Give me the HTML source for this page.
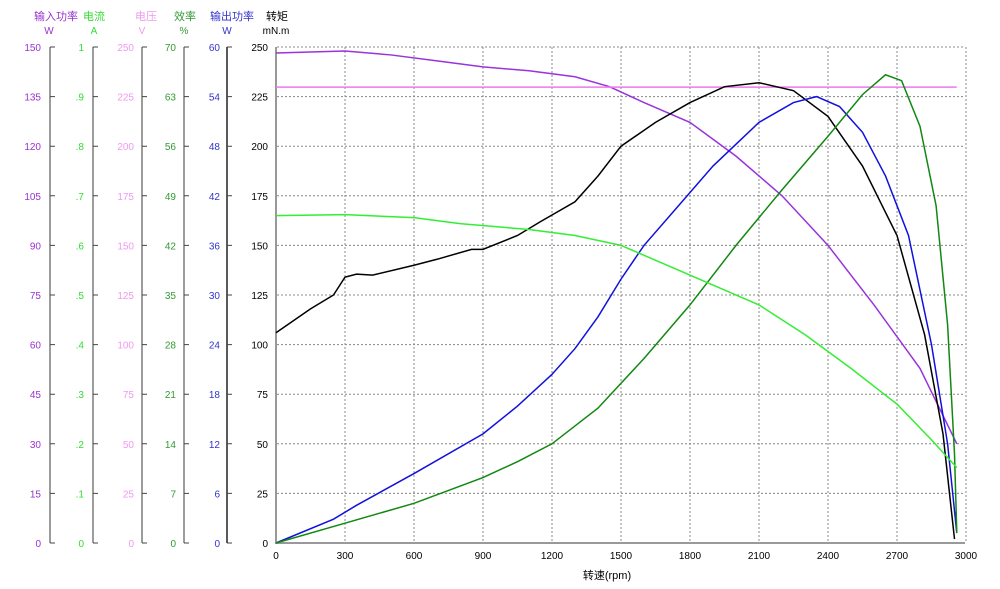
<!DOCTYPE html>
<html><head><meta charset="utf-8"><style>
body{margin:0;background:#fff;}
svg{display:block;font-family:"Liberation Sans","Noto Sans CJK SC",sans-serif;font-size:10px;}
</style></head><body>
<svg width="1000" height="589" xmlns="http://www.w3.org/2000/svg">
<g font-size="11" text-anchor="middle">
<text x="56" y="20" fill="#9933cc">输入功率</text><text x="94" y="20" fill="#33dd33">电流</text>
<text x="146" y="20" fill="#ee99ee">电压</text><text x="185" y="20" fill="#339933">效率</text>
<text x="232" y="20" fill="#3333cc">输出功率</text><text x="277" y="20" fill="#000">转矩</text>
</g>
<g font-size="10" text-anchor="middle">
<text x="49" y="34" fill="#9933cc">W</text><text x="94" y="34" fill="#33dd33">A</text>
<text x="142" y="34" fill="#ee99ee">V</text><text x="184" y="34" fill="#339933">%</text>
<text x="227" y="34" fill="#3333cc">W</text><text x="276" y="34" fill="#000">mN.m</text>
</g>
<g stroke-width="1.3">
<line x1="50" y1="47" x2="50" y2="543" stroke="#666"/>
<line x1="93" y1="47" x2="93" y2="543" stroke="#666"/>
<line x1="142" y1="47" x2="142" y2="543" stroke="#666"/>
<line x1="184" y1="47" x2="184" y2="543" stroke="#666"/>
<line x1="227" y1="47" x2="227" y2="543" stroke="#000"/>
</g>
<g stroke="#444">
<path d="M50 543h5M50 493.4h5M50 443.8h5M50 394.2h5M50 344.6h5M50 295h5M50 245.4h5M50 195.8h5M50 146.2h5M50 96.6h5M50 47h5"/>
<path d="M93 543h5M93 493.4h5M93 443.8h5M93 394.2h5M93 344.6h5M93 295h5M93 245.4h5M93 195.8h5M93 146.2h5M93 96.6h5M93 47h5"/>
<path d="M142 543h5M142 493.4h5M142 443.8h5M142 394.2h5M142 344.6h5M142 295h5M142 245.4h5M142 195.8h5M142 146.2h5M142 96.6h5M142 47h5"/>
<path d="M184 543h5M184 493.4h5M184 443.8h5M184 394.2h5M184 344.6h5M184 295h5M184 245.4h5M184 195.8h5M184 146.2h5M184 96.6h5M184 47h5"/>
<path d="M227 543h5M227 493.4h5M227 443.8h5M227 394.2h5M227 344.6h5M227 295h5M227 245.4h5M227 195.8h5M227 146.2h5M227 96.6h5M227 47h5"/>
</g>
<g text-anchor="end" font-size="10">
<g fill="#9933cc"><text x="41" y="547">0</text><text x="41" y="497.4">15</text><text x="41" y="447.8">30</text><text x="41" y="398.2">45</text><text x="41" y="348.6">60</text><text x="41" y="299">75</text><text x="41" y="249.4">90</text><text x="41" y="199.8">105</text><text x="41" y="150.2">120</text><text x="41" y="100.6">135</text><text x="41" y="51">150</text></g>
<g fill="#33dd33"><text x="84" y="547">0</text><text x="84" y="497.4">.1</text><text x="84" y="447.8">.2</text><text x="84" y="398.2">.3</text><text x="84" y="348.6">.4</text><text x="84" y="299">.5</text><text x="84" y="249.4">.6</text><text x="84" y="199.8">.7</text><text x="84" y="150.2">.8</text><text x="84" y="100.6">.9</text><text x="84" y="51">1</text></g>
<g fill="#ee99ee"><text x="134" y="547">0</text><text x="134" y="497.4">25</text><text x="134" y="447.8">50</text><text x="134" y="398.2">75</text><text x="134" y="348.6">100</text><text x="134" y="299">125</text><text x="134" y="249.4">150</text><text x="134" y="199.8">175</text><text x="134" y="150.2">200</text><text x="134" y="100.6">225</text><text x="134" y="51">250</text></g>
<g fill="#339933"><text x="176" y="547">0</text><text x="176" y="497.4">7</text><text x="176" y="447.8">14</text><text x="176" y="398.2">21</text><text x="176" y="348.6">28</text><text x="176" y="299">35</text><text x="176" y="249.4">42</text><text x="176" y="199.8">49</text><text x="176" y="150.2">56</text><text x="176" y="100.6">63</text><text x="176" y="51">70</text></g>
<g fill="#3333cc"><text x="220" y="547">0</text><text x="220" y="497.4">6</text><text x="220" y="447.8">12</text><text x="220" y="398.2">18</text><text x="220" y="348.6">24</text><text x="220" y="299">30</text><text x="220" y="249.4">36</text><text x="220" y="199.8">42</text><text x="220" y="150.2">48</text><text x="220" y="100.6">54</text><text x="220" y="51">60</text></g>
<g fill="#000"><text x="268" y="547">0</text><text x="268" y="497.4">25</text><text x="268" y="447.8">50</text><text x="268" y="398.2">75</text><text x="268" y="348.6">100</text><text x="268" y="299">125</text><text x="268" y="249.4">150</text><text x="268" y="199.8">175</text><text x="268" y="150.2">200</text><text x="268" y="100.6">225</text><text x="268" y="51">250</text></g>
</g>
<g stroke="#888" stroke-width="1" stroke-dasharray="2,2">
<path d="M277 493.4H965M277 443.8H965M277 394.2H965M277 344.6H965M277 295H965M277 245.4H965M277 195.8H965M277 146.2H965M277 96.6H965M277 47H965"/>
<path d="M345 47V543M414 47V543M483 47V543M552 47V543M621 47V543M690 47V543M759 47V543M828 47V543M897 47V543M966 47V543"/>
</g>
<g text-anchor="middle" font-size="10">
<text x="276" y="559">0</text><text x="345" y="559">300</text><text x="414" y="559">600</text><text x="483" y="559">900</text><text x="552" y="559">1200</text><text x="621" y="559">1500</text><text x="690" y="559">1800</text><text x="759" y="559">2100</text><text x="828" y="559">2400</text><text x="897" y="559">2700</text><text x="966" y="559">3000</text>
</g>
<line x1="276" y1="47" x2="276" y2="543" stroke="#999" stroke-width="2"/>
<line x1="275" y1="543" x2="965" y2="543" stroke="#999" stroke-width="2"/>
<g fill="none" stroke-width="1.5" transform="translate(276,543) scale(0.23,-1.984)">
<polyline vector-effect="non-scaling-stroke" stroke="#9933dd" points="0,247 300,248 500,246 700,243 900,240 1100,238 1300,235 1450,230 1600,222 1800,212 2000,195 2200,175 2400,150 2600,120 2800,88 2960,50"/>
<polyline vector-effect="non-scaling-stroke" stroke="#ee77ee" points="0,229.8 2960,229.8"/>
<polyline vector-effect="non-scaling-stroke" stroke="#000" points="0,106 150,118 250,125 300,134 350,135.5 420,135 600,140 700,143 850,148 900,148 1050,155 1150,162 1300,172 1400,185 1500,200 1650,212 1800,222 1950,230 2100,232 2250,228 2400,215 2550,190 2700,155 2820,105 2900,55 2950,2"/>
<polyline vector-effect="non-scaling-stroke" stroke="#1111dd" points="0,0 250,12 350,19 600,35 900,55 1050,69 1200,85 1300,98 1400,114 1500,133 1600,150 1750,170 1900,190 2100,212 2250,222 2350,225 2450,220 2550,207 2650,185 2750,155 2850,100 2920,50 2960,5"/>
<polyline vector-effect="non-scaling-stroke" stroke="#118811" points="0,0 300,10 600,20 900,33 1050,41 1200,50 1400,68 1600,93 1800,120 2000,150 2200,178 2400,205 2550,226 2650,236 2720,233 2800,210 2870,170 2920,110 2950,45 2960,5"/>
<polyline vector-effect="non-scaling-stroke" stroke="#33ee33" points="0,165 300,165.5 600,164 800,161 1100,158 1300,155 1500,150 1700,140 1900,130 2100,120 2300,105 2500,88 2700,70 2850,52 2960,38"/>
</g>
<text x="607" y="579" font-size="11" text-anchor="middle">转速(rpm)</text>
</svg>
</body></html>
